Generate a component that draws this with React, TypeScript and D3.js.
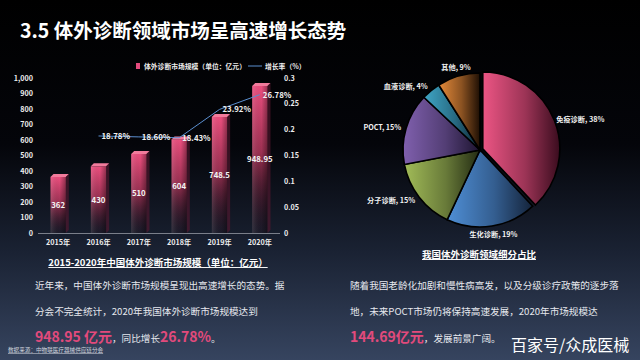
import React from 'react'
import * as d3 from 'd3'

// 市场规模（亿元）
const years = ['2015年', '2016年', '2017年', '2018年', '2019年', '2020年']
const marketSize = [362, 430, 510, 604, 748.5, 948.95]
const sizeLabels = ['362', '430', '510', '604', '748.5', '948.95']

// 增长率
const rateYears = ['2016年', '2017年', '2018年', '2019年', '2020年']
const growthRate = [0.1878, 0.186, 0.1843, 0.2392, 0.2678]
const rateLabels = ['18.78%', '18.60%', '18.43%', '23.92%', '26.78%']

const leftTicks = [0, 100, 200, 300, 400, 500, 600, 700, 800, 900, 1000]
const rightTicks = [0, 0.05, 0.1, 0.15, 0.2, 0.25, 0.3]

// 细分占比
const segNames = ['免疫诊断', '生化诊断', '分子诊断', 'POCT', '血液诊断', '其他']
const segShares = [38, 19, 15, 15, 4, 9]
const segColors = [
  ['#ec5584', '#3a0c1e'],
  ['#4f8fd6', '#14233a'],
  ['#a2bc58', '#222a12'],
  ['#8060ae', '#1d1430'],
  ['#3fa6c6', '#0c2330'],
  ['#e68b3a', '#1e0f04'],
]

const FONT = '"Noto Sans CJK SC", "Noto Sans", sans-serif'
const PINK = '#e24a7c'

export default function App() {
  const x = d3.scaleBand<string>().domain(years).range([38, 280]).paddingInner(0.62).paddingOuter(0.31)
  const yL = d3.scaleLinear().domain([0, 1000]).range([233, 78])
  const yR = d3.scaleLinear().domain([0, 0.3]).range([233, 78])
  const bw = x.bandwidth()
  const cxOf = (yr: string) => (x(yr) as number) + bw / 2

  const line = d3.line<number>()
    .x((_, i) => cxOf(rateYears[i]))
    .y(d => yR(d))

  // 饼图
  const pcx = 480, pcy = 150, pr = 77
  const pieData = d3.pie<number>().sort(null).value(d => d)(segShares)
  const arc = d3.arc<d3.PieArcDatum<number>>().innerRadius(0).outerRadius(pr)

  return (
    <div style={{ position: 'fixed', left: 0, top: 0 }}>
      <svg width={640} height={360} style={{ display: 'block', fontFamily: FONT }}>
        <defs>
          <linearGradient id="bg" x1="0" y1="0" x2="0" y2="1">
            <stop offset="0" stopColor="#000" />
            <stop offset="0.4" stopColor="#04050a" />
            <stop offset="0.7" stopColor="#1a2233" />
            <stop offset="1" stopColor="#36445f" />
          </linearGradient>
          <linearGradient id="bar" x1="0" y1="0" x2="0" y2="1">
            <stop offset="0" stopColor="#ec4f7f" stopOpacity="1" />
            <stop offset="0.45" stopColor="#b8385f" stopOpacity="0.85" />
            <stop offset="1" stopColor="#3a1020" stopOpacity="0.15" />
          </linearGradient>
          <linearGradient id="barSide" x1="0" y1="0" x2="1" y2="0">
            <stop offset="0" stopColor="#fff" stopOpacity="0.12" />
            <stop offset="0.6" stopColor="#000" stopOpacity="0" />
            <stop offset="1" stopColor="#000" stopOpacity="0.35" />
          </linearGradient>
          {segColors.map((c, i) => (
            <linearGradient key={i} id={`seg${i}`} x1="0" y1="0" x2="1" y2="0">
              <stop offset="0" stopColor={c[0]} />
              <stop offset="0.55" stopColor={d3.interpolateRgb(c[0], c[1])(0.45)} />
              <stop offset="1" stopColor={c[1]} />
            </linearGradient>
          ))}
        </defs>
        <rect width={640} height={360} fill="url(#bg)" />

        <text x={20} y={38} fill="#fff" fontSize={19.5} fontWeight={700}>3.5 体外诊断领域市场呈高速增长态势</text>

        {/* 图例 */}
        <rect x={136} y={63} width={4} height={6} fill={PINK} />
        <text x={144} y={68.5} fill="#eee" fontSize={6.8} fontWeight={700}>体外诊断市场规模（单位：亿元）</text>
        <line x1={248} x2={262} y1={66} y2={66} stroke="#5b8fd0" strokeWidth={1} />
        <text x={265} y={68.5} fill="#eee" fontSize={6.8} fontWeight={700}>增长率（%）</text>

        {/* 坐标轴 */}
        {leftTicks.map(t => (
          <text key={t} x={33} y={yL(t) + 2.5} textAnchor="end" fill="#eee" fontSize={7.2} fontWeight={700}>
            {d3.format(',')(t)}
          </text>
        ))}
        {rightTicks.map(t => (
          <text key={t} x={284} y={yR(t) + 2.5} fill="#eee" fontSize={7.2} fontWeight={700}>{String(t)}</text>
        ))}
        <line x1={38} x2={280} y1={233.5} y2={233.5} stroke="#7a7f8a" strokeWidth={1} />
        {years.map(yr => (
          <text key={yr} x={cxOf(yr)} y={245} textAnchor="middle" fill="#eee" fontSize={7.2} fontWeight={700}>{yr}</text>
        ))}

        {/* 柱子 */}
        {marketSize.map((v, i) => {
          const bx = x(years[i]) as number
          const top = yL(v)
          const depth = 3
          return (
            <g key={i}>
              <rect x={bx} y={top} width={bw} height={233 - top} fill="url(#bar)" />
              <rect x={bx} y={top} width={bw} height={233 - top} fill="url(#barSide)" />
              <path
                d={`M${bx},${top} L${bx + depth},${top - depth} L${bx + bw + depth},${top - depth} L${bx + bw},${top} Z`}
                fill="#f27b9c"
              />
              <path
                d={`M${bx + bw},${top} L${bx + bw + depth},${top - depth} L${bx + bw + depth},${233 - depth} L${bx + bw},233 Z`}
                fill="#5a1830"
                opacity={0.6}
              />
              <text x={bx + bw / 2} y={(top + 233) / 2 + 3} textAnchor="middle" fill="#f4f4f4" fontSize={7.8} fontWeight={700}>
                {sizeLabels[i]}
              </text>
            </g>
          )
        })}

        {/* 增长率折线 */}
        <path d={line(growthRate) || ''} fill="none" stroke="#5b8fd0" strokeWidth={1} />
        {growthRate.map((r, i) => (
          <text key={i} x={cxOf(rateYears[i]) + 3} y={yR(r) + 3} fill="#f2f2f2" fontSize={7.8} fontWeight={700}>
            {rateLabels[i]}
          </text>
        ))}

        <text x={158} y={266} textAnchor="middle" fill="#fff" fontSize={9.5} fontWeight={700} textDecoration="underline">
          2015-2020年中国体外诊断市场规模（单位：亿元）
        </text>

        {/* 饼图 */}
        <g transform={`translate(${pcx},${pcy})`}>
          {pieData.map((d, i) => {
            const mid = (d.startAngle + d.endAngle) / 2
            const off = i === 0 ? 3 : 0
            return (
              <path
                key={i}
                d={arc(d) || ''}
                transform={`translate(${Math.sin(mid) * off},${-Math.cos(mid) * off})`}
                fill={`url(#seg${i})`}
                stroke="#000"
                strokeWidth={1.6}
              />
            )
          })}
          {pieData.map((d, i) => {
            const mid = (d.startAngle + d.endAngle) / 2
            const s = Math.sin(mid)
            const lr = Math.abs(s) > 0.3 ? 82 : 86
            const anchor = s > 0.3 ? 'start' : s < -0.3 ? 'end' : 'middle'
            return (
              <text
                key={`l${i}`}
                x={s * lr}
                y={-Math.cos(mid) * lr + 2.5}
                textAnchor={anchor}
                fill="#f2f2f2"
                fontSize={7.2}
                fontWeight={700}
              >
                {`${segNames[i]}, ${segShares[i]}%`}
              </text>
            )
          })}
        </g>

        <text x={479} y={258} textAnchor="middle" fill="#fff" fontSize={9.5} fontWeight={700} textDecoration="underline">
          我国体外诊断领域细分占比
        </text>

        {/* 文字说明 */}
        <g fill="#e6e8ee" fontSize={9.6}>
          <text x={35} y={289}>近年来，中国体外诊断市场规模呈现出高速增长的态势。据</text>
          <text x={35} y={315}>分会不完全统计，2020年我国体外诊断市场规模达到</text>
          <text x={35} y={342}>
            <tspan fill={PINK} fontSize={14} fontWeight={700}>948.95 亿元</tspan>
            <tspan>，同比增长</tspan>
            <tspan fill={PINK} fontSize={14} fontWeight={700}>26.78%</tspan>
            <tspan>。</tspan>
          </text>
          <text x={350} y={289}>随着我国老龄化加剧和慢性病高发，以及分级诊疗政策的逐步落</text>
          <text x={350} y={315}>地，未来POCT市场仍将保持高速发展，2020年市场规模达</text>
          <text x={350} y={342}>
            <tspan fill={PINK} fontSize={14} fontWeight={700}>144.69亿元</tspan>
            <tspan>，发展前景广阔。</tspan>
          </text>
        </g>

        <text x={8} y={352} fill="#cfd3dc" fontSize={5.6} textDecoration="underline">数据来源：中物联医疗器械供应链分会</text>
        <text x={511} y={351} fill="#fff" fontSize={16}>百家号/众成医械</text>
      </svg>
    </div>
  )
}
